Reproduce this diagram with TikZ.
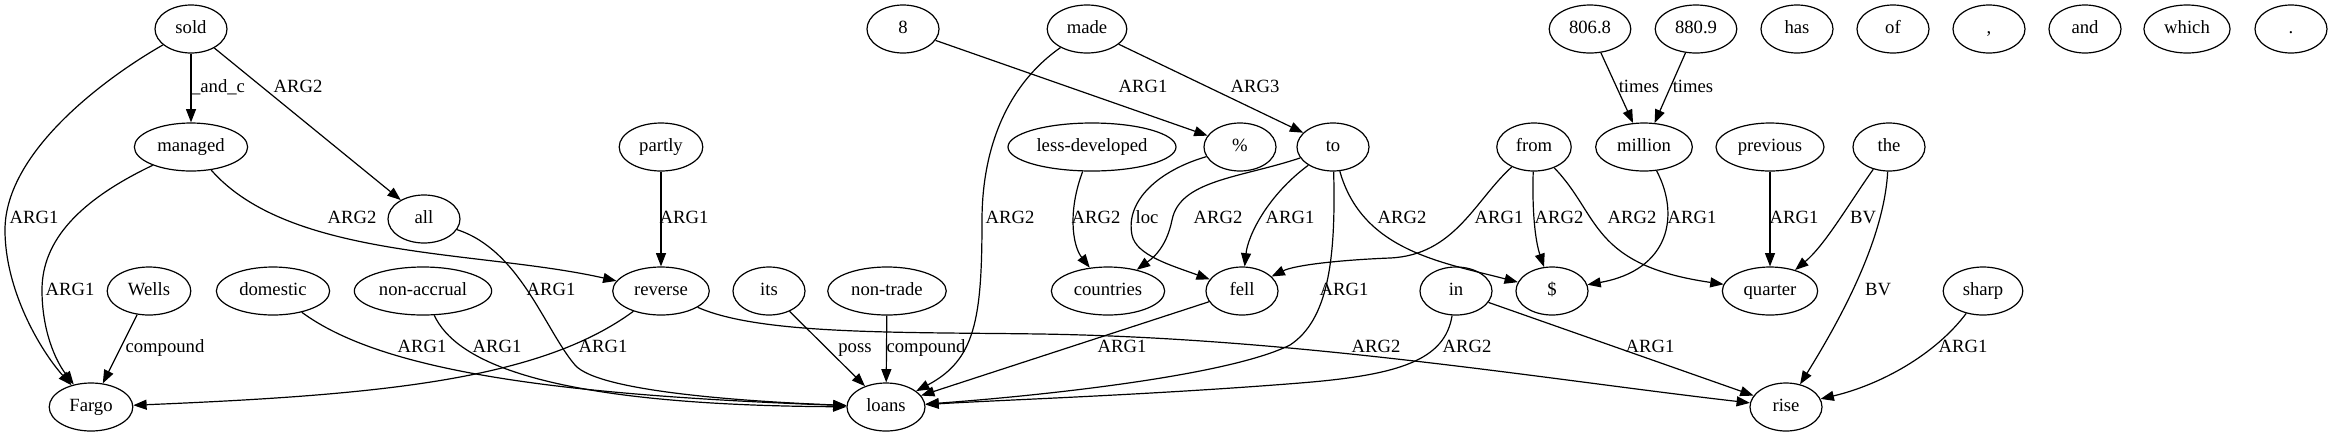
\documentclass[tikz,border=0pt]{standalone}
\usepackage{fontspec}
\setmainfont{Liberation Serif}
\usetikzlibrary{shapes.geometric,arrows.meta}

\begin{document}
\begin{tikzpicture}[x=0.75pt, y=-0.75pt,
    word/.style={ellipse, draw, line width=0.9pt, inner sep=0pt, minimum width=54pt, minimum height=36pt, text height=10pt, text depth=3pt, font=\fontsize{14pt}{16pt}\selectfont},
    rel/.style={-{Triangle[length=10pt,width=7.5pt]}, line width=0.9pt},
    lab/.style={inner sep=0pt, text height=10pt, text depth=3pt, font=\fontsize{14pt}{16pt}\selectfont}]
    % Fix the frame of the picture (coordinates are in pixels of the reference)
    \useasboundingbox (0,0) rectangle (2332,437);

    % Top row of words
    \node[word] (sold) at (191,29) {sold};
    \node[word] (eight) at (903,29) {8};
    \node[word, minimum width=59.7pt] (made) at (1087,29) {made};
    \node[word, minimum width=61.2pt] (n8068) at (1590,29) {806.8};
    \node[word, minimum width=61.2pt] (n8809) at (1696,29) {880.9};
    \node[word] (has) at (1797,29) {has};
    \node[word] (of) at (1893,29) {of};
    \node[word] (comma) at (1989,29) {,};
    \node[word] (and) at (2085,29) {and};
    \node[word, minimum width=64.6pt] (which) at (2187,29) {which};
    \node[word] (period) at (2291,29) {.};

    % Second row
    \node[word, minimum width=85pt] (managed) at (191,147) {managed};
    \node[word, minimum width=62.7pt] (partly) at (661,147) {partly};
    \node[word, minimum width=126pt] (lessdev) at (1092,147) {less-developed};
    \node[word] (pct) at (1240,147) {\%};
    \node[word] (toP) at (1333,147) {to};
    \node[word, minimum width=55.8pt] (fromP) at (1534,147) {from};
    \node[word, minimum width=72.5pt] (million) at (1644,147) {million};
    \node[word, minimum width=81pt] (previous) at (1770,147) {previous};
    \node[word] (the) at (1889,147) {the};

    % The word between the rows
    \node[word] (all) at (424,219) {all};

    % Third row
    \node[word, minimum width=62.7pt] (Wells) at (149,291) {Wells};
    \node[word, minimum width=85pt] (domestic) at (273,291) {domestic};
    \node[word, minimum width=103pt] (nonaccrual) at (423,291) {non-accrual};
    \node[word, minimum width=72.4pt] (reverse) at (661,291) {reverse};
    \node[word] (its) at (769,291) {its};
    \node[word, minimum width=88.9pt] (nontrade) at (887,291) {non-trade};
    \node[word, minimum width=85pt] (countries) at (1108,291) {countries};
    \node[word] (fell) at (1242,291) {fell};
    \node[word] (inP) at (1456,291) {in};
    \node[word] (dollar) at (1552,291) {\$};
    \node[word, minimum width=71.5pt] (quarter) at (1770,291) {quarter};
    \node[word, minimum width=59.7pt] (sharp) at (1983,291) {sharp};

    % Bottom row
    \node[word, minimum width=62.7pt] (Fargo) at (91,407) {Fargo};
    \node[word, minimum width=58.5pt] (loans) at (886,407) {loans};
    \node[word] (rise) at (1786,407) {rise};

    % Relations of sold and managed
    \draw[rel] (sold) -- (managed) node[lab] at (218,88) {\_and\_c};
    \draw[rel] (sold) -- (all) node[lab] at (298,88) {ARG2};
    \draw[rel] (sold) .. controls (110,75) and (5,150) .. (5,230)
        .. controls (5,290) and (40,350) .. (Fargo) node[lab] at (34,219) {ARG1};
    \draw[rel] (managed) .. controls (80,200) and (42,240) .. (42,290)
        .. controls (42,330) and (55,360) .. (Fargo) node[lab] at (70,291) {ARG1};
    \draw[rel] (managed) .. controls (290,260) and (480,250) .. (reverse) node[lab] at (352,219) {ARG2};
    \draw[rel] (Wells) -- (Fargo) node[lab] at (165,348) {compound};

    % Into Fargo and loans from the left
    \draw[rel] (reverse) .. controls (540,380) and (380,395) .. (Fargo) node[lab] at (603,348) {ARG1};
    \draw[rel] (all) .. controls (520,250) and (545,330) .. (575,365)
        .. controls (599,393) and (760,402) .. (loans) node[lab] at (551,291) {ARG1};
    \draw[rel] (domestic) .. controls (380,370) and (550,395) .. (loans) node[lab] at (422,348) {ARG1};
    \draw[rel] (nonaccrual) .. controls (455,360) and (540,405) .. (loans) node[lab] at (497,348) {ARG1};
    \draw[rel] (partly) -- (reverse) node[lab] at (684,219) {ARG1};
    \draw[rel] (reverse) .. controls (760,335) and (900,332) .. (1040,334)
        .. controls (1300,338) and (1550,380) .. (rise) node[lab] at (1376,348) {ARG2};
    \draw[rel] (its) -- (loans) node[lab] at (855,348) {poss};
    \draw[rel] (nontrade) -- (loans) node[lab] at (926,348) {compound};

    % made, 8 and the middle words
    \draw[rel] (made) .. controls (1000,90) and (982,160) .. (982,220)
        .. controls (982,320) and (975,360) .. (loans) node[lab] at (1010,219) {ARG2};
    \draw[rel] (eight) -- (pct) node[lab] at (1143,88) {ARG1};
    \draw[rel] (made) -- (toP) node[lab] at (1255,88) {ARG3};
    \draw[rel] (lessdev) .. controls (1068,210) and (1072,245) .. (countries) node[lab] at (1096,219) {ARG2};
    \draw[rel] (pct) .. controls (1160,170) and (1125,200) .. (1132,235)
        .. controls (1136,255) and (1170,265) .. (fell) node[lab] at (1147,219) {loc};
    \draw[rel] (toP) .. controls (1240,178) and (1180,180) .. (1172,220)
        .. controls (1166,250) and (1150,260) .. (countries) node[lab] at (1218,219) {ARG2};
    \draw[rel] (toP) .. controls (1268,195) and (1248,235) .. (fell) node[lab] at (1290,219) {ARG1};
    \draw[rel] (toP) .. controls (1336,260) and (1328,320) .. (1290,345)
        .. controls (1230,375) and (1050,395) .. (loans) node[lab] at (1344,291) {ARG1};
    \draw[rel] (toP) .. controls (1362,250) and (1440,262) .. (dollar) node[lab] at (1402,219) {ARG2};
    \draw[rel] (fell) -- (loans) node[lab] at (1122,348) {ARG1};

    % from, million and the right side
    \draw[rel] (fromP) .. controls (1475,200) and (1455,255) .. (1390,258)
        .. controls (1340,260) and (1295,265) .. (fell) node[lab] at (1499,219) {ARG1};
    \draw[rel] (fromP) .. controls (1532,210) and (1535,240) .. (dollar) node[lab] at (1559,219) {ARG2};
    \draw[rel] (fromP) .. controls (1600,215) and (1590,265) .. (quarter) node[lab] at (1632,219) {ARG2};
    \draw[rel] (million) .. controls (1680,215) and (1670,270) .. (dollar) node[lab] at (1692,219) {ARG1};
    \draw[rel] (n8068) -- (million) node[lab] at (1639,88) {times};
    \draw[rel] (n8809) -- (million) node[lab] at (1693,88) {times};
    \draw[rel] (previous) -- (quarter) node[lab] at (1794,219) {ARG1};
    \draw[rel] (the) .. controls (1848,205) and (1825,245) .. (quarter) node[lab] at (1863,219) {BV};
    \draw[rel] (the) .. controls (1884,240) and (1840,320) .. (rise) node[lab] at (1878,291) {BV};
    \draw[rel] (inP) .. controls (1445,360) and (1400,375) .. (1300,383)
        .. controls (1150,395) and (1000,400) .. (loans) node[lab] at (1467,348) {ARG2};
    \draw[rel] (inP) -- (rise) node[lab] at (1650,348) {ARG1};
    \draw[rel] (sharp) .. controls (1935,355) and (1880,385) .. (rise) node[lab] at (1963,348) {ARG1};
\end{tikzpicture}
\end{document}
